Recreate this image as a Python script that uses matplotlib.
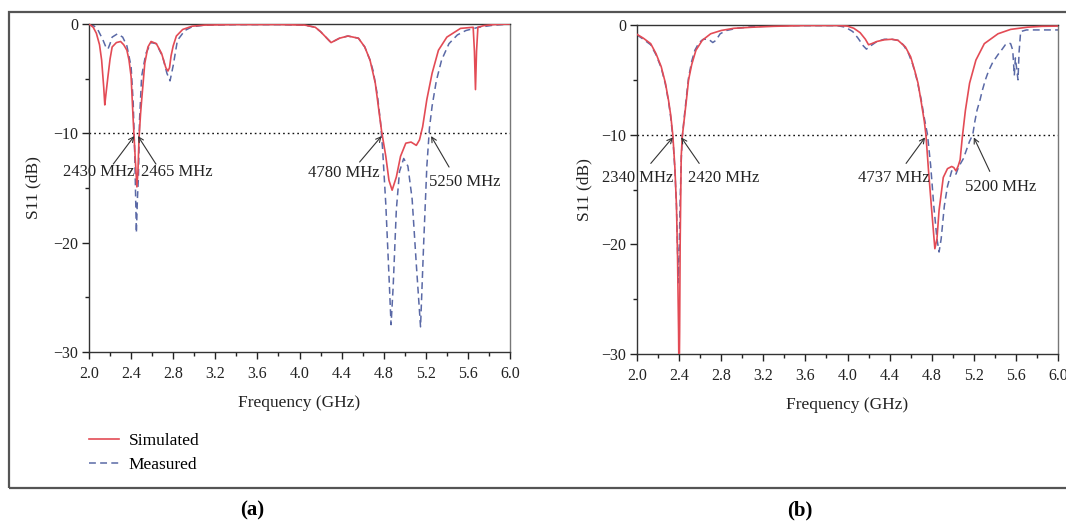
import matplotlib
matplotlib.use('Agg')
import matplotlib.pyplot as plt
from matplotlib.patches import Rectangle
from matplotlib.ticker import MultipleLocator

plt.rcParams['font.family'] = ['Liberation Serif', 'DejaVu Serif']
plt.rcParams['axes.unicode_minus'] = True

# ---- data ----
# (a) simulated
fa_sim = [2.00, 2.04, 2.07, 2.10, 2.12, 2.14, 2.15, 2.16, 2.18, 2.20, 2.22, 2.26, 2.30,
          2.33, 2.36, 2.38, 2.40, 2.42, 2.44, 2.455, 2.465, 2.475, 2.49, 2.50, 2.53, 2.56,
          2.59, 2.64, 2.69, 2.73, 2.75, 2.765, 2.78, 2.80, 2.83, 2.89, 2.98, 3.10, 3.40,
          3.80, 4.05, 4.15, 4.20, 4.25, 4.30, 4.34, 4.38, 4.46, 4.56, 4.62, 4.67, 4.72,
          4.75, 4.78, 4.82, 4.85, 4.88, 4.92, 4.96, 5.01, 5.06, 5.11, 5.14, 5.17, 5.21,
          5.26, 5.32, 5.40, 5.53, 5.65, 5.662, 5.672, 5.682, 5.695, 5.75, 5.85, 6.00]
sa_sim = [0.0, -0.3, -0.85, -1.9, -3.3, -5.8, -7.4, -6.5, -4.8, -3.2, -2.1, -1.7, -1.6,
          -1.9, -2.4, -3.3, -4.8, -8.8, -12.4, -14.9, -13.5, -10.5, -8.2, -7.0, -3.6, -2.1,
          -1.6, -1.8, -2.7, -4.0, -4.3, -4.0, -2.9, -2.0, -1.1, -0.5, -0.2, -0.1, -0.05,
          -0.05, -0.1, -0.3, -0.7, -1.2, -1.7, -1.5, -1.3, -1.1, -1.3, -2.1, -3.3, -5.4,
          -7.6, -9.8, -12.1, -14.3, -15.2, -14.0, -12.1, -10.9, -10.8, -11.1, -10.6, -9.4, -6.9,
          -4.5, -2.4, -1.2, -0.4, -0.3, -2.5, -6.0, -2.5, -0.3, -0.15, -0.05, 0.0]

# (a) measured
fa_meas = [2.00, 2.05, 2.08, 2.13, 2.16, 2.18, 2.20, 2.22, 2.27, 2.32, 2.36, 2.40, 2.42,
           2.435, 2.45, 2.46, 2.47, 2.48, 2.50, 2.54, 2.59, 2.64, 2.70, 2.74, 2.77, 2.80,
           2.84, 2.91, 2.98, 3.10, 3.40, 3.80, 4.05, 4.15, 4.20, 4.25, 4.30, 4.34, 4.38,
           4.46, 4.56, 4.62, 4.67, 4.70, 4.74, 4.77, 4.79, 4.82, 4.85, 4.87, 4.89, 4.92,
           4.95, 4.99, 5.03, 5.07, 5.11, 5.15, 5.18, 5.21, 5.235, 5.26, 5.30, 5.35, 5.42,
           5.50, 5.58, 5.70, 5.85, 6.00]
sa_meas = [0.0, -0.2, -0.45, -1.4, -2.1, -2.3, -1.8, -1.2, -0.9, -1.2, -2.0, -3.9, -7.2,
           -12.0, -19.1, -16.0, -13.9, -8.8, -4.8, -2.7, -1.7, -1.8, -3.0, -4.5, -5.2, -3.8,
           -1.5, -0.6, -0.25, -0.1, -0.05, -0.05, -0.1, -0.3, -0.7, -1.2, -1.7, -1.5, -1.3,
           -1.1, -1.3, -2.1, -3.3, -4.3, -6.5, -9.0, -11.5, -16.5, -23.0, -27.5, -24.0, -17.0,
           -13.5, -12.3, -13.0, -16.0, -22.0, -27.7, -20.0, -13.0, -9.5, -7.5, -5.2, -3.3, -1.8,
           -1.0, -0.6, -0.3, -0.1, 0.0]

# (b) simulated
fb_sim = [2.00, 2.06, 2.13, 2.18, 2.23, 2.27, 2.30, 2.32, 2.34, 2.36, 2.375, 2.385, 2.395,
          2.40, 2.405, 2.41, 2.42, 2.43, 2.45, 2.47, 2.49, 2.52, 2.56, 2.62, 2.70, 2.80,
          2.92, 3.10, 3.30, 3.60, 3.90, 4.00, 4.06, 4.12, 4.17, 4.20, 4.23, 4.28, 4.35,
          4.42, 4.48, 4.55, 4.60, 4.64, 4.67, 4.70, 4.73, 4.745, 4.77, 4.80, 4.83, 4.85,
          4.87, 4.91, 4.95, 4.99, 5.01, 5.03, 5.05, 5.07, 5.09, 5.12, 5.16, 5.22, 5.30,
          5.43, 5.55, 5.71, 5.85, 6.00]
sb_sim = [-0.85, -1.2, -1.7, -2.6, -3.8, -5.3, -6.9, -8.2, -10.0, -13.0, -16.5, -21.0, -28.0,
          -33.0, -28.0, -20.0, -12.0, -10.2, -8.5, -6.8, -5.0, -3.6, -2.3, -1.4, -0.8, -0.5,
          -0.3, -0.2, -0.12, -0.05, -0.05, -0.1, -0.3, -0.7, -1.3, -1.8, -1.7, -1.5, -1.35,
          -1.3, -1.4, -2.0, -2.9, -4.2, -5.3, -7.0, -8.8, -10.0, -13.3, -16.9, -20.4, -19.5,
          -16.9, -13.9, -13.1, -12.9, -13.0, -13.3, -12.9, -12.3, -10.3, -7.8, -5.3, -3.2, -1.7,
          -0.8, -0.4, -0.2, -0.12, -0.1]

# (b) measured
fb_meas = [2.00, 2.06, 2.13, 2.18, 2.23, 2.27, 2.30, 2.32, 2.34, 2.36, 2.375, 2.385, 2.393,
           2.40, 2.41, 2.42, 2.43, 2.45, 2.47, 2.49, 2.52, 2.55, 2.59, 2.63, 2.68, 2.72,
           2.75, 2.79, 2.85, 2.95, 3.10, 3.40, 3.90, 3.98, 4.05, 4.10, 4.15, 4.18, 4.22,
           4.28, 4.35, 4.42, 4.48, 4.53, 4.58, 4.62, 4.66, 4.70, 4.73, 4.76, 4.79, 4.82,
           4.85, 4.87, 4.89, 4.92, 4.95, 4.99, 5.01, 5.03, 5.05, 5.07, 5.10, 5.13, 5.16,
           5.19, 5.21, 5.23, 5.26, 5.28, 5.31, 5.34, 5.38, 5.43, 5.47, 5.50, 5.53, 5.55,
           5.57, 5.585, 5.595, 5.61, 5.62, 5.63, 5.645, 5.70, 6.00]
sb_meas = [-0.9, -1.3, -1.8, -2.7, -3.9, -5.4, -7.0, -8.4, -10.2, -13.2, -16.5, -20.5, -23.5,
           -21.0, -16.0, -12.5, -10.2, -8.3, -6.5, -4.8, -3.3, -2.3, -1.6, -1.3, -1.3, -1.6,
           -1.4, -0.8, -0.5, -0.3, -0.15, -0.05, -0.05, -0.2, -0.6, -1.2, -1.9, -2.2, -1.9,
           -1.5, -1.3, -1.3, -1.4, -1.8, -2.6, -3.6, -5.0, -6.8, -8.5, -10.0, -12.8, -16.5,
           -19.5, -20.7, -19.5, -16.5, -14.7, -13.3, -13.4, -13.6, -13.1, -12.7, -12.2, -11.4, -10.6,
           -10.0, -8.8, -7.8, -6.8, -6.0, -5.0, -4.2, -3.4, -2.7, -2.2, -1.8, -1.65, -1.7,
           -2.3, -4.6, -3.0, -4.2, -5.0, -2.5, -0.6, -0.45, -0.45]

a_marks = [2430, 2465, 4780, 5250]
b_marks = [2340, 2420, 4737, 5200]
marker_level = -10

# ---- layout (pixel offsets from arrow tip: tail, then text centre) ----
a_offsets = [((-21, -28), (-36, -36)), ((18, -28), (39, -36)),
             ((-22, -26), (-38, -37)), ((18, -31), (34, -46))]
b_offsets = [((-22, -26), (-35, -41)), ((18, -26), (42, -41)),
             ((-19, -26), (-31, -41)), ((16, -34), (27, -50))]

red = '#e34b55'
blue = '#5a69a6'
W, H = 1066, 522
fig = plt.figure(figsize=(W / 100, H / 100), dpi=100)

# outer frame around both panels
fig.patches.append(Rectangle((9 / W, 1 - 488 / H), (1075 - 9) / W, (488 - 12) / H,
                             transform=fig.transFigure, fill=False, lw=1.6, ec='#555555'))

ax1 = fig.add_axes([89 / W, 1 - 352 / H, 421 / W, 328 / H])
ax2 = fig.add_axes([637 / W, 1 - 354 / H, 421 / W, 329 / H])


def style(ax, ylab_x):
    ax.set_xlim(2.0, 6.0)
    ax.set_ylim(-30, 0)
    ax.xaxis.set_major_locator(MultipleLocator(0.4))
    ax.xaxis.set_minor_locator(MultipleLocator(0.2))
    ax.yaxis.set_major_locator(MultipleLocator(10))
    ax.yaxis.set_minor_locator(MultipleLocator(5))
    ax.xaxis.set_major_formatter(lambda v, p: '%.1f' % v)
    ax.tick_params(which='both', direction='out', top=False, right=False,
                   labelsize=11.5, colors='#222222', width=1.0)
    ax.tick_params(which='major', length=5)
    ax.tick_params(which='minor', length=3)
    ax.tick_params(axis='x', pad=5)
    ax.tick_params(axis='y', pad=3)
    for s in ax.spines.values():
        s.set_color('#333333')
        s.set_linewidth(1.0)
    ax.spines['right'].set_color('#777777')
    ax.set_xlabel('Frequency (GHz)', fontsize=12.5, color='#222222')
    ax.set_ylabel('S11 (dB)', fontsize=12.5, color='#222222')
    ax.xaxis.set_label_coords(0.5, -0.155)
    ax.xaxis.label.set_va('center')
    ax.yaxis.set_label_coords(ylab_x, 0.5)
    ax.yaxis.label.set_va('center')
    ax.axhline(marker_level, color='#111111', lw=1.0, ls=(0, (1.2, 2.2)), zorder=1)


def marks(ax, freqs, offsets):
    for mhz, (tail, txt) in zip(freqs, offsets):
        tip = (mhz / 1000.0, marker_level - 0.25)
        ax.annotate('', xy=tip, xytext=tail, textcoords='offset pixels',
                    arrowprops=dict(arrowstyle='->', lw=0.8, color='#333333',
                                    shrinkA=0, shrinkB=0, mutation_scale=9))
        ax.annotate('%d MHz' % mhz, xy=tip, xytext=txt, textcoords='offset pixels',
                    ha='center', va='center', fontsize=12, color='#222222')


ax1.plot(fa_sim, sa_sim, color=red, lw=1.2, label='Simulated', zorder=3)
ax1.plot(fa_meas, sa_meas, color=blue, lw=1.1, ls=(0, (4.5, 2.8)), label='Measured', zorder=2)
style(ax1, -0.133)
marks(ax1, a_marks, a_offsets)
ax1.legend(loc='upper left', bbox_to_anchor=(0.0, -0.246), frameon=False, borderpad=0,
           borderaxespad=0, handlelength=1.75, handletextpad=0.55, labelspacing=0.48,
           prop={'size': 12.5})

ax2.plot(fb_sim, sb_sim, color=red, lw=1.2, zorder=3)
ax2.plot(fb_meas, sb_meas, color=blue, lw=1.1, ls=(0, (4.5, 2.8)), zorder=2)
style(ax2, -0.124)
marks(ax2, b_marks, b_offsets)

fig.text(252 / W, 1 - 510 / H, '(a)', ha='center', va='center', fontsize=15, fontweight='bold')
fig.text(800 / W, 1 - 510 / H, '(b)', ha='center', va='center', fontsize=15, fontweight='bold')

fig.savefig('out.png', dpi=100)
